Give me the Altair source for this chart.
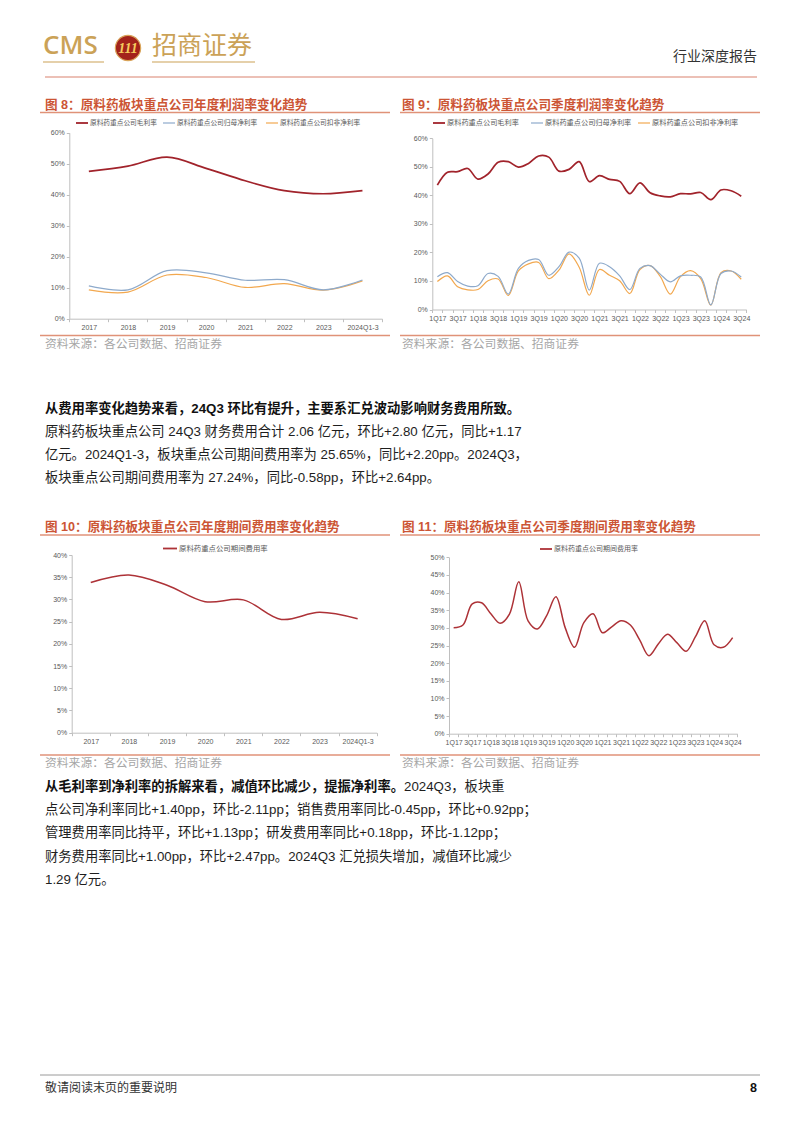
import altair as alt
import pandas as pd

# ---------------- data ----------------
years = ["2017", "2018", "2019", "2020", "2021", "2022", "2023", "2024Q1-3"]
gross_year = [47.5, 49.2, 52.1, 48.5, 44.5, 41.3, 40.3, 41.3]
net_year = [10.6, 9.3, 15.5, 14.8, 12.4, 12.6, 9.3, 12.5]
deduct_year = [9.3, 8.6, 14.1, 13.3, 10.1, 11.3, 9.2, 12.2]

quarters = ["1Q17", "2Q17", "3Q17", "4Q17", "1Q18", "2Q18", "3Q18", "4Q18",
            "1Q19", "2Q19", "3Q19", "4Q19", "1Q20", "2Q20", "3Q20", "4Q20",
            "1Q21", "2Q21", "3Q21", "4Q21", "1Q22", "2Q22", "3Q22", "4Q22",
            "1Q23", "2Q23", "3Q23", "4Q23", "1Q24", "2Q24", "3Q24"]
gross_q = [43.6, 48.1, 48.3, 49.4, 45.7, 47.5, 51.6, 51.8, 49.9, 51.2, 53.8, 53.4,
           48.5, 49.1, 51.8, 44.8, 46.9, 45.6, 44.9, 40.6, 44.4, 40.9, 39.8, 39.5,
           40.6, 40.5, 41.0, 38.5, 41.9, 41.6, 39.7]
net_q = [11.5, 12.9, 9.8, 8.2, 8.3, 12.6, 11.6, 5.4, 14.4, 17.2, 17.5, 12.0,
         15.0, 20.1, 18.0, 6.8, 16.2, 15.0, 11.8, 7.0, 14.4, 15.4, 12.4, 9.7,
         11.8, 12.0, 11.4, 1.6, 12.6, 13.5, 11.4]
deduct_q = [9.8, 11.8, 8.0, 6.9, 7.0, 10.1, 10.7, 4.9, 13.5, 16.0, 16.5, 10.8,
            13.8, 19.5, 14.8, 5.0, 14.0, 12.0, 10.1, 5.6, 14.0, 15.4, 11.6, 5.4,
            11.5, 13.6, 10.8, 1.5, 12.9, 13.5, 10.6]

expense_year = [33.8, 35.5, 33.2, 29.5, 29.9, 25.5, 27.1, 25.65]
expense_q = [30.0, 30.8, 36.8, 37.1, 34.0, 31.3, 33.9, 43.1, 32.0, 29.7, 33.5, 38.8,
             30.0, 24.5, 31.5, 34.0, 28.6, 30.3, 32.0, 30.8, 26.6, 22.1, 25.4, 28.2,
             25.8, 23.4, 27.5, 32.0, 25.2, 24.5, 27.24]

# ---------------- styles ----------------
W, H = 786, 1117
BODY = "Liberation Sans, Noto Sans CJK SC, sans-serif"
AXF = "Liberation Sans, sans-serif"
RED = "#a1232b"
BLUE = "#8eaacb"
ORANGE = "#f2a84f"
EXP = "#ad3237"
TITLE_C = "#cc5535"
LINE_C = "#e09278"
GOLD = "#cba257"
SRC_C = "#a6a6a6"
LEG_C = "#595959"
AX_C = "#bfbfbf"

ONE = pd.DataFrame({"k": [0]})


def T(s, x, y, size=13.3, color="#1e1e1e", weight="normal", align="left",
      font=BODY, style="normal"):
    return alt.Chart(ONE).mark_text(
        text=s, align=align, baseline="middle", fontSize=size, font=font,
        fontWeight=weight, color=color, fontStyle=style
    ).encode(x=alt.value(x), y=alt.value(y))


def R(x1, x2, y, color, w=1.0):
    return alt.Chart(ONE).mark_rule(color=color, strokeWidth=w).encode(
        x=alt.value(x1), x2=alt.value(x2), y=alt.value(y))


def legend_item(x, y, label, color, size, lw=1.5, sample=12):
    return [R(x, x + sample, y, color, lw), T(label, x + sample + 2, y, size=size, color=LEG_C)]


def line_chart(cats, series, ymax, ystep, x0, x1, ybot, ytop, odd_labels=False):
    """Chart drawn inside the single page view; scales map into the given pixel box."""
    if odd_labels:
        lexpr = "(slice(datum.label,0,1)=='1' || slice(datum.label,0,1)=='3') ? datum.label : ''"
    else:
        lexpr = "datum.label"
    xenc = alt.X("x:N",
                 scale=alt.Scale(type="band", domain=cats, paddingInner=0, paddingOuter=0,
                                 range=[x0, x1]),
                 bandPosition=0.5,
                 axis=alt.Axis(title=None, orient="bottom", offset=ybot - H, labelAngle=0,
                               tickBand="extent", labelPadding=2, labelOverlap=False,
                               labelExpr=lexpr, tickSize=3, labelFontSize=7, labelFont=AXF,
                               labelColor=LEG_C, domainColor=AX_C, tickColor=AX_C, grid=False))
    yvals = list(range(0, ymax + 1, ystep))
    yenc = alt.Y("v:Q",
                 scale=alt.Scale(domain=[0, ymax], nice=False, zero=True, range=[ybot, ytop]),
                 axis=alt.Axis(title=None, orient="left", offset=-x0, values=yvals,
                               labelExpr="datum.value + '%'", grid=False, tickSize=3,
                               labelPadding=2, labelFontSize=7, labelFont=AXF,
                               labelColor=LEG_C, domainColor=AX_C, tickColor=AX_C))
    layers = []
    for vals, color, lw in series:
        df = pd.DataFrame({"x": cats, "v": vals})
        layers.append(alt.Chart(df).mark_line(color=color, strokeWidth=lw,
                                              interpolate="catmull-rom").encode(x=xenc, y=yenc))
    return alt.layer(*layers)


# all coordinates below are page pixels minus the 8px page margin
layers = []

# ---------------- header ----------------
layers += [
    T("CMS", 35, 38, size=26, color=GOLD, weight=600, font="Open Sans, Liberation Sans"),
    R(35, 96, 54, GOLD, 1.2),
    alt.Chart(ONE).mark_circle(size=640, color="#a3231b", opacity=1, stroke="#d9a55a",
                               strokeWidth=1.2).encode(x=alt.value(120), y=alt.value(40)),
    T("111", 120, 41, size=14, color="#f5cc5e", weight="bold", align="center",
      font="Liberation Serif", style="italic"),
    T("招商证券", 144, 38, size=25, color=GOLD, font="Noto Sans CJK SC"),
    R(144, 247, 54, GOLD, 1.2),
    T("行业深度报告", 749, 49, size=14, color="#333333", align="right"),
    R(37, 749, 69, "#d9826e", 1.2),
]

# ---------------- figures 8 / 9 ----------------
layers += [
    T("图 8：原料药板块重点公司年度利润率变化趋势", 37, 96.5, size=12.6, color=TITLE_C, weight="bold"),
    T("图 9：原料药板块重点公司季度利润率变化趋势", 394, 96.5, size=12.6, color=TITLE_C, weight="bold"),
    R(32, 382, 104.5, LINE_C, 1.5),
    R(392, 752, 104.5, LINE_C, 1.5),
]
layers += legend_item(68, 115, "原料药重点公司毛利率", RED, 6.7, 1.8)
layers += legend_item(155, 115, "原料药重点公司归母净利率", BLUE, 6.7, 1.2)
layers += legend_item(258, 115, "原料药重点公司扣非净利率", ORANGE, 6.7, 1.2)
layers += legend_item(425, 115, "原料药重点公司毛利率", RED, 7.2, 1.8)
layers += legend_item(523, 115, "原料药重点公司归母净利率", BLUE, 7.2, 1.2)
layers += legend_item(630, 115, "原料药重点公司扣非净利率", ORANGE, 7.2, 1.2)

charts = [
    line_chart(years, [(deduct_year, ORANGE, 1.2), (net_year, BLUE, 1.2), (gross_year, RED, 1.7)],
               60, 10, 61.3, 374, 310.7, 124.7),
    line_chart(quarters, [(deduct_q, ORANGE, 1.2), (net_q, BLUE, 1.2), (gross_q, RED, 1.7)],
               60, 10, 424.3, 738.3, 301.5, 130.3, odd_labels=True),
    line_chart(years, [(expense_year, EXP, 1.5)], 40, 5, 63.7, 368.7, 724.7, 547),
    line_chart(quarters, [(expense_q, EXP, 1.5)], 50, 5, 441, 729.3, 725.7, 549.3,
               odd_labels=True),
]

# ---------------- sources 8/9, paragraph 1, titles 10/11 ----------------
layers += [
    R(32, 382, 327.5, LINE_C, 1.5),
    R(392, 752, 327.5, LINE_C, 1.5),
    T("资料来源：各公司数据、招商证券", 37, 336, size=11.8, color=SRC_C),
    T("资料来源：各公司数据、招商证券", 394, 336, size=11.8, color=SRC_C),
    T("从费用率变化趋势来看，24Q3 环比有提升，主要系汇兑波动影响财务费用所致。", 37, 401,
      weight="bold", color="#111111"),
    T("原料药板块重点公司 24Q3 财务费用合计 2.06 亿元，环比+2.80 亿元，同比+1.17", 37, 424),
    T("亿元。2024Q1-3，板块重点公司期间费用率为 25.65%，同比+2.20pp。2024Q3，", 37, 447),
    T("板块重点公司期间费用率为 27.24%，同比-0.58pp，环比+2.64pp。", 37, 470),
    T("图 10：原料药板块重点公司年度期间费用率变化趋势", 37, 519, size=12.6, color=TITLE_C, weight="bold"),
    T("图 11：原料药板块重点公司季度期间费用率变化趋势", 394, 519, size=12.6, color=TITLE_C, weight="bold"),
    R(32, 382, 527, LINE_C, 1.5),
    R(392, 752, 527, LINE_C, 1.5),
]
layers += legend_item(155, 540.5, "原料药重点公司期间费用率", EXP, 7.4, 1.8, 14)
layers += legend_item(532, 541, "原料药重点公司期间费用率", EXP, 7.0, 1.8, 12)

# ---------------- sources 10/11, paragraph 2, footer ----------------
layers += [
    R(32, 382, 747, LINE_C, 1.5),
    R(392, 752, 747, LINE_C, 1.5),
    T("资料来源：各公司数据、招商证券", 37, 755, size=11.8, color=SRC_C),
    T("资料来源：各公司数据、招商证券", 394, 755, size=11.8, color=SRC_C),
    T("从毛利率到净利率的拆解来看，减值环比减少，提振净利率。", 37, 779, weight="bold", color="#111111"),
    T("2024Q3，板块重", 396, 779),
    T("点公司净利率同比+1.40pp，环比-2.11pp；销售费用率同比-0.45pp，环比+0.92pp；", 37, 802),
    T("管理费用率同比持平，环比+1.13pp；研发费用率同比+0.18pp，环比-1.12pp；", 37, 825),
    T("财务费用率同比+1.00pp，环比+2.47pp。2024Q3 汇兑损失增加，减值环比减少", 37, 849),
    T("1.29 亿元。", 37, 872),
    R(32, 752, 1067, "#9a9a9a", 1.0),
    T("敬请阅读末页的重要说明", 37, 1080, size=12, color="#333333"),
    T("8", 749, 1080, size=12.5, color="#111111", weight="bold", align="right"),
]

chart = alt.layer(*(charts + layers)).resolve_scale(
    x="independent", y="independent"
).resolve_axis(
    x="independent", y="independent"
).properties(
    width=W, height=H, padding=0, background="white"
).configure_view(strokeWidth=0)

chart.save("out.html", embed_options={"renderer": "svg", "actions": False})
